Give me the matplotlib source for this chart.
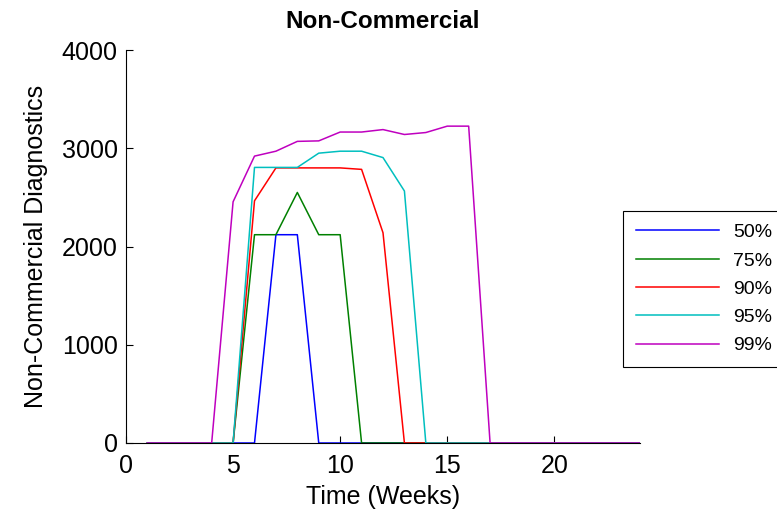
import matplotlib
matplotlib.use("Agg")
import matplotlib.pyplot as plt

weeks = list(range(1, 25))
labels = ["50%", "75%", "90%", "95%", "99%"]
colors = ["#0000ff", "#008000", "#ff0000", "#00bfbf", "#bf00bf"]

s50 = [0, 0, 0, 0, 0, 0, 2120, 2120, 0, 0, 0, 0, 0, 0, 0, 0, 0, 0, 0, 0, 0, 0, 0, 0]
s75 = [0, 0, 0, 0, 0, 2120, 2120, 2550, 2120, 2120, 0, 0, 0, 0, 0, 0, 0, 0, 0, 0, 0, 0, 0, 0]
s90 = [0, 0, 0, 0, 0, 2465, 2800, 2800, 2800, 2800, 2785, 2140, 0, 0, 0, 0, 0, 0, 0, 0, 0, 0, 0, 0]
s95 = [0, 0, 0, 0, 0, 2805, 2805, 2805, 2950, 2970, 2970, 2905, 2565, 0, 0, 0, 0, 0, 0, 0, 0, 0, 0, 0]
s99 = [0, 0, 0, 0, 2455, 2920, 2970, 3070, 3075, 3165, 3165, 3190, 3140, 3160, 3225, 3225, 0, 0, 0, 0, 0, 0, 0, 0]
series = [s50, s75, s90, s95, s99]

xticks = [0, 5, 10, 15, 20]
yticks = [0, 1000, 2000, 3000, 4000]

plt.rcParams['font.family'] = ['Liberation Sans', 'DejaVu Sans']

fig = plt.figure(figsize=(7.77, 5.17), dpi=100)
ax = fig.add_axes([126/777, 1 - 443/517, (640 - 126)/777, (443 - 50)/517])

for s, lab, c in zip(series, labels, colors):
    ax.plot(weeks, s, color=c, lw=1.1, label=lab)

ax.set_xlim(0, 24)
ax.set_ylim(0, 4000)
ax.set_xticks(xticks)
ax.set_yticks(yticks)
ax.tick_params(direction='in', length=5, width=0.8, labelsize=18, pad=6)
ax.tick_params(axis='x', pad=8)
for side in ['top', 'right']:
    ax.spines[side].set_visible(False)
for side in ['left', 'bottom']:
    ax.spines[side].set_linewidth(0.8)

ax.set_xlabel("Time (Weeks)", fontsize=18, labelpad=5)
ax.set_ylabel("Non-Commercial Diagnostics", fontsize=18, labelpad=10)
ax.set_title("Non-Commercial", fontsize=17.5, fontweight='bold', pad=16)

leg = fig.legend(loc='upper left', bbox_to_anchor=(623/777, 1 - 211/517),
                 fontsize=14, frameon=True, fancybox=False, framealpha=1,
                 edgecolor='black', handlelength=4.3, handletextpad=0.7,
                 borderpad=0.65, labelspacing=0.55, borderaxespad=0)
leg.get_frame().set_linewidth(0.8)

fig.savefig("out.png", dpi=100)
